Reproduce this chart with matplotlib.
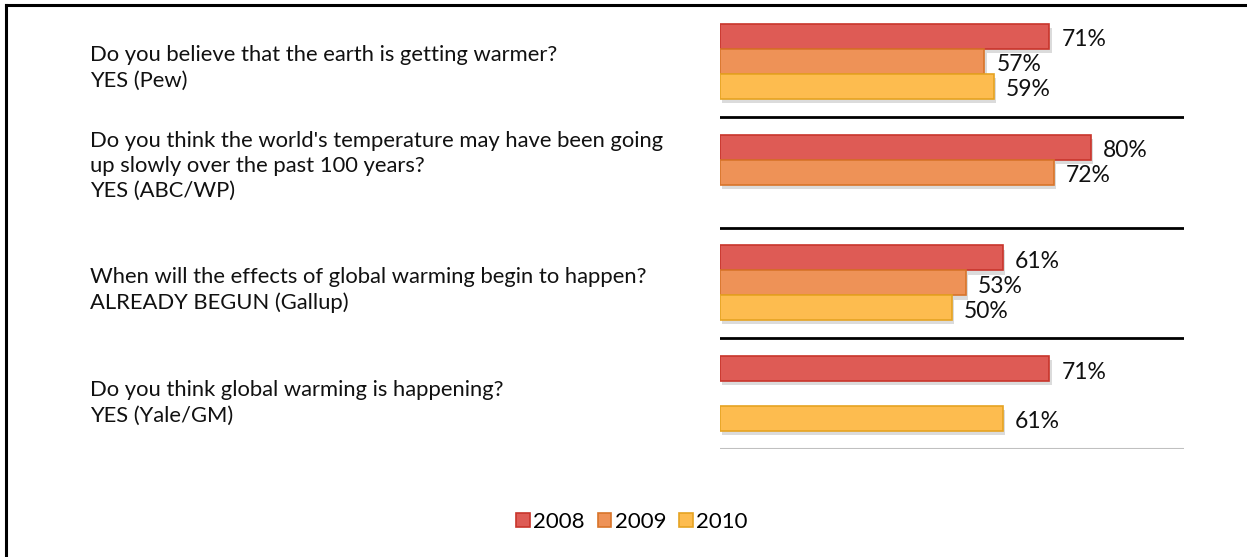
import numpy as np
import matplotlib
matplotlib.use("Agg")
import matplotlib.pyplot as plt
from matplotlib import patheffects as pe
from matplotlib.lines import Line2D
from matplotlib.patches import Patch

questions = [
    "Do you believe that the earth is getting warmer?\nYES (Pew)",
    "Do you think the world's temperature may have been going\nup slowly over the past 100 years?\nYES (ABC/WP)",
    "When will the effects of global warming begin to happen?\nALREADY BEGUN (Gallup)",
    "Do you think global warming is happening?\nYES (Yale/GM)",
]
years = ["2008", "2009", "2010"]
v2008 = [71, 80, 61, 71]
v2009 = [57, 72, 53, np.nan]
v2010 = [59, np.nan, 50, 61]
series = [v2008, v2009, v2010]

fills = ["#DE5B55", "#EE9257", "#FDBC4F"]
edges = ["#C8352B", "#D8742A", "#E5A322"]

plt.rcParams['font.family'] = ['Lato', 'DejaVu Sans']

W, H = 1247, 557
fig = plt.figure(figsize=(W / 100, H / 100), dpi=100)
fig.patch.set_facecolor("white")

ax = fig.add_axes([720 / W, 1 - 449 / H, (1184 - 720) / W, (449 - 6) / H])
ax.set_xlim(0, 100)
ax.set_ylim(3.5, -0.5)
ax.axis("off")

bh = 0.225
offsets = [-bh, 0, bh]
y = np.arange(len(questions))
shadow = [pe.SimplePatchShadow(offset=(1.5, -3), shadow_rgbFace="#888888", alpha=0.3), pe.Normal()]
for vals, off, fc, ec in zip(series, offsets, fills, edges):
    vals = np.array(vals, dtype=float)
    mask = ~np.isnan(vals)
    bars = ax.barh(y[mask] + off, vals[mask], height=bh, color=fc, edgecolor=ec,
                   linewidth=1.2, zorder=3)
    for b in bars:
        b.set_path_effects(shadow)
    for yi, v in zip(y[mask] + off, vals[mask]):
        ax.text(v + 2.6, yi + 0.03, f"{int(v)}%", ha="left", va="center",
                fontsize=16.5, color="#111111", zorder=4)

for yy in [0.5, 1.5, 2.5]:
    ax.axhline(yy, color="black", lw=2, zorder=2)
ax.axhline(3.5, color="#c0c0c0", lw=1.5, zorder=2)

text_y = [68, 166, 290, 403]
for q, ty in zip(questions, text_y):
    fig.text(90 / W, 1 - ty / H, q, ha="left", va="center", fontsize=15.8,
             color="#111111", linespacing=1.33)

# frame (left and top)
fig.add_artist(Line2D([6 / W, 6 / W], [0, 1 - 5 / H], color="black", lw=2.2,
                      transform=fig.transFigure))
fig.add_artist(Line2D([6 / W, 1], [1 - 5 / H, 1 - 5 / H], color="black", lw=2.2,
                      transform=fig.transFigure))

handles = [Patch(facecolor=fc, edgecolor=ec, linewidth=1.2) for fc, ec in zip(fills, edges)]
fig.legend(handles, years, loc="center", bbox_to_anchor=(632 / W, 1 - 522 / H), ncol=3,
           frameon=False, fontsize=16, handlelength=0.6, handleheight=0.6,
           handletextpad=0.15, columnspacing=0.6)

fig.savefig("out.png", dpi=100)
